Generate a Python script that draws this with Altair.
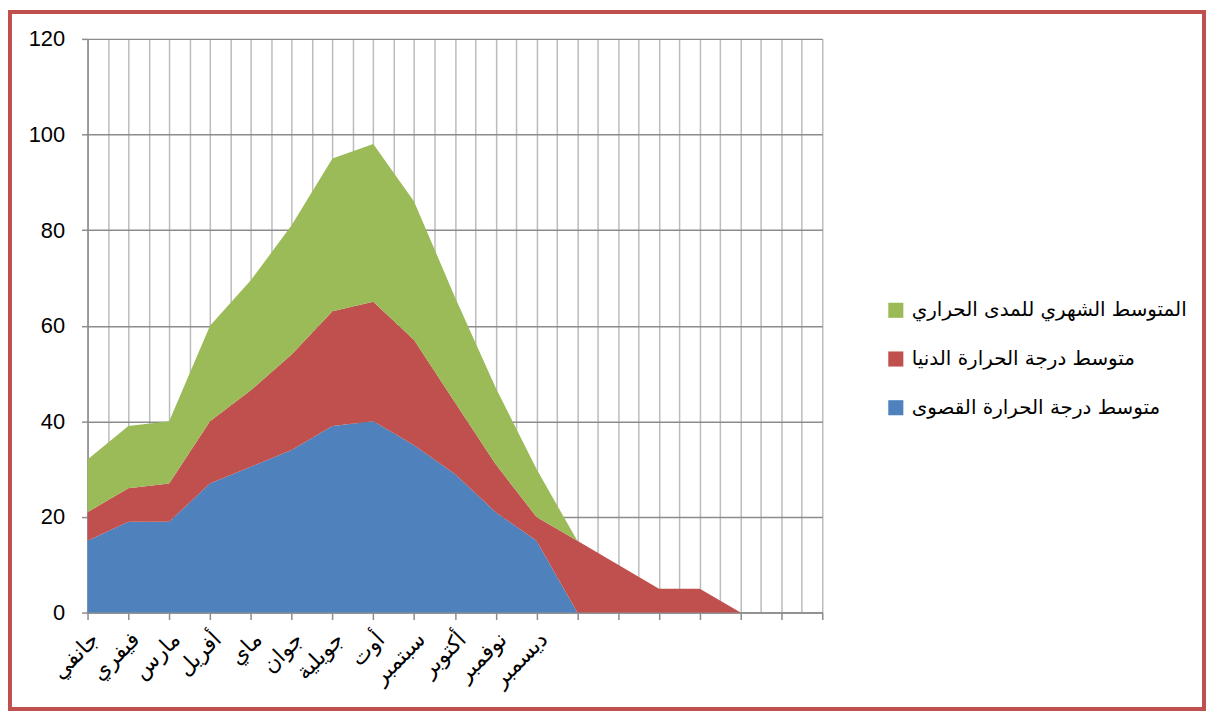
import altair as alt
import pandas as pd

# Category labels (Algerian month names); the axis has 19 slots, only 12 labelled
months = ["جانفي", "فيفري", "مارس", "أفريل", "ماي", "جوان", "جويلية",
          "أوت", "سبتمبر", "أكتوبر", "نوفمبر", "ديسمبر"]
n_slots = 19

series_names = ["متوسط درجة الحرارة القصوى",
                "متوسط درجة الحرارة الدنيا",
                "المتوسط الشهري للمدى الحراري"]
colors = ["#4f81bd", "#c0504d", "#9bbb59"]

# stacked series values (per slot index)
max_vals = [15, 19, 19, 27, 30.5, 34, 39, 40, 35, 29, 21, 15, 0]
min_vals = [6, 7, 8, 13, 16, 20, 24, 25, 22, 15, 10, 5, 15, 10, 5, 5, 0]
range_vals = [11, 13, 13, 20, 23, 27, 32, 33, 29, 22, 16, 10, 0]

y_ticks = [0, 20, 40, 60, 80, 100, 120]

rows = []
for order, (name, vals) in enumerate(zip(series_names, [max_vals, min_vals, range_vals])):
    for i, v in enumerate(vals):
        rows.append({"x": i, "series": name, "value": v, "order": order})
df = pd.DataFrame(rows)

grid_values = [i / 2 for i in range(2 * (n_slots - 1) + 1)]
month_js = "[" + ",".join("'" + m + "'" for m in months) + "]"

x_axis = alt.Axis(
    values=grid_values,
    grid=True,
    gridColor="#bcbcbc",
    gridWidth=1.5,
    domainColor="#8c8c8c",
    domainWidth=1.5,
    tickColor="#8c8c8c",
    tickWidth=1.5,
    tickSize=7,
    tickOpacity={"condition": {"test": "datum.value % 1 !== 0", "value": 0}, "value": 1},
    labelExpr=f"(datum.value % 1 === 0 && datum.value < {len(months)}) ? {month_js}[datum.value] : ''",
    labelAngle=-45,
    labelAlign="right",
    labelBaseline="top",
    labelFont="DejaVu Sans",
    labelFontSize=22,
    labelColor="#000000",
    labelOverlap=False,
    labelPadding=9,
    labelBound=False,
    title=None,
)

y_axis = alt.Axis(
    values=y_ticks,
    grid=True,
    gridColor="#8c8c8c",
    gridWidth=1.5,
    domainColor="#8c8c8c",
    domainWidth=1.5,
    tickColor="#8c8c8c",
    tickWidth=1.5,
    tickSize=6,
    labelFont="Liberation Sans",
    labelFontSize=22,
    labelColor="#000000",
    labelPadding=17,
    title=None,
)

area = alt.Chart(df).mark_area(opacity=1, interpolate="linear").encode(
    x=alt.X("x:Q", scale=alt.Scale(domain=[0, n_slots - 1], nice=False, zero=False), axis=x_axis),
    y=alt.Y("value:Q", stack="zero", scale=alt.Scale(domain=[0, 120], nice=False), axis=y_axis),
    color=alt.Color(
        "series:N",
        scale=alt.Scale(domain=series_names[::-1], range=colors[::-1]),
        legend=alt.Legend(
            orient="none",
            legendX=803,
            legendY=263,
            title=None,
            symbolType="square",
            symbolSize=230,
            symbolStrokeWidth=0,
            labelFont="DejaVu Sans",
            labelFontSize=20,
            labelColor="#000000",
            labelLimit=500,
            rowPadding=29,
            padding=0,
            labelOffset=6,
        ),
    ),
    order=alt.Order("order:Q"),
)

border = alt.Chart(pd.DataFrame({"k": [0]})).mark_rect(
    fillOpacity=0, stroke="#c0504d", strokeWidth=4
).encode(
    x=alt.value(-78), x2=alt.value(1123), y=alt.value(-27), y2=alt.value(674)
)

chart = alt.layer(area, border).properties(
    width=739,
    height=577,
    autosize=alt.AutoSizeParams(type="none"),
    padding={"left": 80, "top": 29, "right": 386, "bottom": 99},
).configure_view(strokeWidth=0)

chart.save("out.html", embed_options={"renderer": "svg", "actions": False})
